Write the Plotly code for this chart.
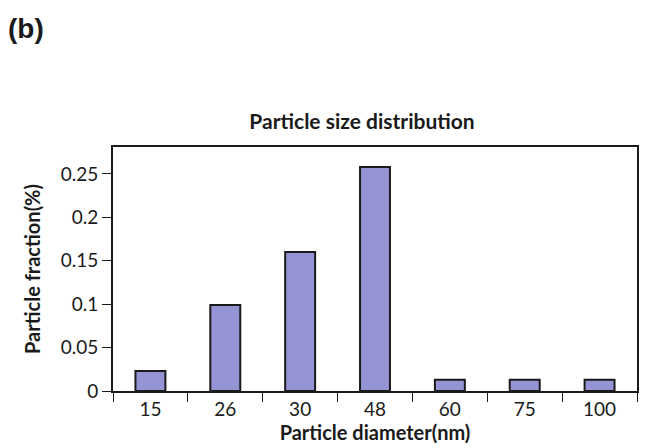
import plotly.graph_objects as go

diameters = ["15", "26", "30", "48", "60", "75", "100"]
fractions = [0.023, 0.099, 0.160, 0.258, 0.013, 0.013, 0.013]

FONT = "Lato"

fig = go.Figure(go.Bar(
    x=diameters, y=fractions, width=0.4,
    marker=dict(color="#9494d4", line=dict(color="#1a1a1a", width=2)),
))

fig.update_layout(
    width=645, height=448,
    margin=dict(l=113, r=6, t=147, b=57),
    paper_bgcolor="white", plot_bgcolor="white",
    showlegend=False,
    font=dict(family=FONT, color="#1a1a1a", size=19),
    title=dict(text="<b>Particle size distribution</b>", x=(248 + 476) / 2 / 645, xanchor="center",
               y=1 - 122 / 448, yanchor="middle", yref="container",
               font=dict(family=FONT, size=21, color="#1a1a1a")),
)
fig.add_annotation(text="<b>(b)</b>", xref="paper", yref="paper",
                   x=(6 - 113) / 526, y=1 + (147 - 28) / 244,
                   xanchor="left", yanchor="middle", showarrow=False,
                   font=dict(family="Liberation Sans", size=28, color="#1a1a1a"))

fig.update_xaxes(
    type="category", showline=True, linecolor="#1a1a1a", linewidth=2, mirror=True,
    ticks="outside", tickson="boundaries", ticklen=9, tickcolor="#1a1a1a", tickwidth=1,
    showgrid=False,
    title=dict(text="<b>Particle diameter(nm)</b>", font=dict(size=20), standoff=7),
    tickfont=dict(size=19),
)
fig.update_yaxes(
    range=[0, 0.281], dtick=0.05, showline=True, linecolor="#1a1a1a", linewidth=2, mirror=True,
    ticks="outside", ticklen=9, tickcolor="#1a1a1a", tickwidth=1,
    showgrid=False, zeroline=False,
    title=dict(text="<b>Particle fraction(%)</b>", font=dict(size=20), standoff=15),
    tickfont=dict(size=19),
)

fig.write_html("out.html")
